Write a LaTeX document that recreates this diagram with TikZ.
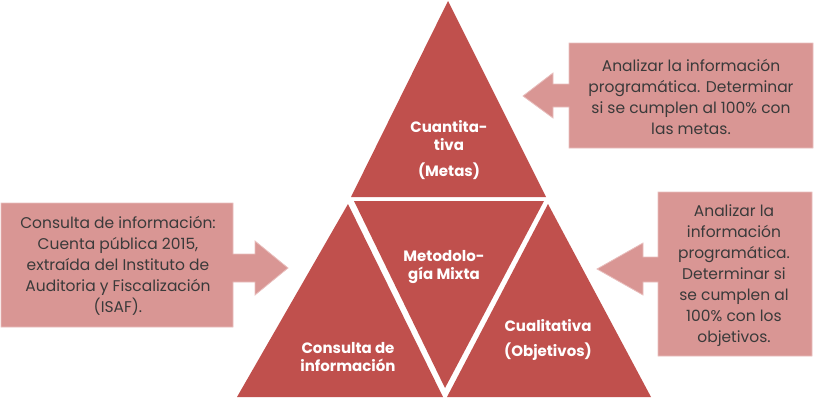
\documentclass[tikz,border=0pt]{standalone}
\usepackage{fontspec}
\setmainfont{Poppins}
\definecolor{tri}{HTML}{C0504D}
\definecolor{boxfill}{HTML}{D99694}
\definecolor{boxline}{HTML}{E8BEBD}
\definecolor{boxtext}{HTML}{3A3A3A}
\begin{document}
\begin{tikzpicture}[x=1pt,y=-1pt,
  trifill/.style={fill=tri},
  tritext/.style={text=white,font=\fontsize{15}{18}\selectfont\bfseries,align=center,inner sep=0pt},
  callout/.style={fill=boxfill,draw=boxline,line width=0.8pt},
  boxtxt/.style={text=boxtext,font=\fontsize{15.5}{21}\selectfont,align=center,inner sep=0pt}]
\useasboundingbox (0,0) rectangle (815,402);
% triangles
\fill[trifill] (448,1) -- (351,197) -- (546,197) -- cycle;
\fill[trifill] (354,201) -- (544,201) -- (445,388) -- cycle;
\fill[trifill] (348,204) -- (237,397) -- (443,397) -- cycle;
\fill[trifill] (548,204) -- (447,397) -- (651,397) -- cycle;
% callouts
\draw[callout] (1,203) -- (233,203) -- (233,254) -- (255,254) -- (255,241) -- (288,268)
  -- (255,295) -- (255,282) -- (233,282) -- (233,327) -- (1,327) -- cycle;
\draw[callout] (813,43) -- (569,43) -- (569,84) -- (553,84) -- (553,73) -- (523,96)
  -- (553,118) -- (553,107) -- (569,107) -- (569,148) -- (813,148) -- cycle;
\draw[callout] (812,192) -- (658,192) -- (658,257) -- (643,257) -- (643,243) -- (597,269)
  -- (643,295) -- (643,282) -- (658,282) -- (658,356) -- (812,356) -- cycle;
% triangle labels
\node[tritext] (cuant) at (449,150) {Cuantita-\\tiva\\[8pt](Metas)};
\node[tritext] (mixta) at (444,267) {Metodolo-\\gía Mixta};
\node[tritext] (consulta) at (348,357) {Consulta de\\información};
\node[tritext,font=\fontsize{15}{25}\selectfont\bfseries] (cuali) at (548,340) {Cualitativa\\(Objetivos)};
% box texts
\node[boxtxt] (lt) at (118,266) {Consulta de información:\\Cuenta pública 2015,\\extraída del Instituto de\\Auditoria y Fiscalización\\(ISAF).};
\node[boxtxt] (tr) at (691,97) {Analizar la información\\programática. Determinar\\si se cumplen al 100\% con\\las metas.};
\node[boxtxt] (br) at (734,276) {Analizar la\\información\\programática.\\Determinar si\\se cumplen al\\100\% con los\\objetivos.};
\end{tikzpicture}
\end{document}
